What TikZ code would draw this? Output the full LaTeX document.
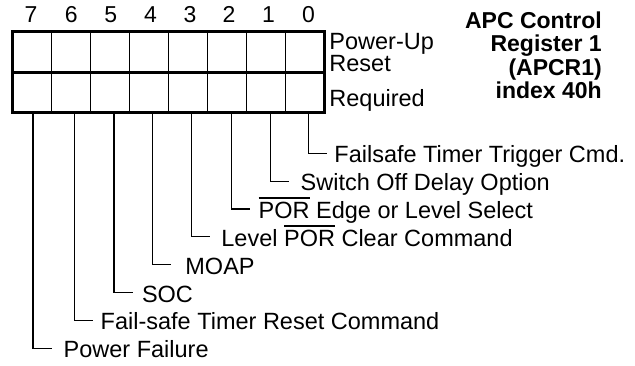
\documentclass[tikz,border=0pt]{standalone}
\usepackage{fontspec}
\setmainfont{Liberation Sans}
\newcommand{\ovbar}[1]{\leavevmode\vbox{\hrule height 1.3pt\kern 3.4pt\hbox{#1}}}
\begin{document}
\begin{tikzpicture}[x=1pt,y=-1pt,
  cell/.style={draw,line width=1pt,minimum width=38.975pt,minimum height=40.5pt,inner sep=0pt,outer sep=0pt},
  lbl/.style={anchor=base west,inner sep=0pt,font=\fontsize{23.5}{26}\selectfont},
  bitno/.style={anchor=base,inner sep=0pt,font=\fontsize{23}{26}\selectfont},
  ttl/.style={anchor=base east,inner sep=0pt,font=\fontsize{23}{26}\selectfont\bfseries},
  thickline/.style={line width=3.2pt},
  leader/.style={line width=1.1pt}]
\useasboundingbox (0,0) rectangle (635,365);
% register cells
\foreach \i in {0,...,7} {
  \node[cell] (u\i) at ({12.5+38.975*(7-\i)+19.4875},51.95) {};
  \node[cell] (l\i) at ({12.5+38.975*(7-\i)+19.4875},92.45) {};
}
\draw[thickline] (u7.north west) rectangle (l0.south east);
\draw[thickline] (u7.south west) -- (u0.south east);
% bit numbers
\foreach \i/\x in {7/31,6/71.2,5/110.8,4/150.6,3/190,2/229,1/268.5,0/308.5} {
  \node[bitno] (d\i) at (\x,22.7) {\i};
}
% side labels
\node[lbl] (pu) at (329.2,49.3) {Power-Up};
\node[lbl] (rs) at (329.2,71.7) {Reset};
\node[lbl] (rq) at (329.2,106) {Required};
% title
\node[ttl] (t1) at (602,28.3) {APC Control};
\node[ttl] (t2) at (602,51.7) {Register 1};
\node[ttl] (t3) at (602,75) {(APCR1)};
\node[ttl] (t4) at (602,98.3) {index 40h};
% leaders and field labels
\foreach \i/\x/\tx/\txt in {
  0/308.3/334.2/{Failsafe Timer Trigger Cmd.},
  1/270.7/300.5/{Switch Off Delay Option},
  2/231.7/258.5/{\ovbar{POR} Edge or Level Select},
  3/191.7/221.2/{Level \ovbar{POR} Clear Command},
  4/152.7/185.2/{MOAP},
  5/114/141.8/{SOC},
  6/74.5/100.5/{Fail-safe Timer Reset Command},
  7/33/63.5/{Power Failure}} {
  \pgfmathsetmacro{\ey}{153.3+27.86*\i}
  \coordinate (b\i) at (\x,112.7);
  \coordinate (e\i) at (\x+18.5,\ey);
  \node[lbl] (f\i) at (\tx,\ey+9.5) {\txt};
  \draw[leader] (b\i) |- (e\i);
}
\end{tikzpicture}
\end{document}
